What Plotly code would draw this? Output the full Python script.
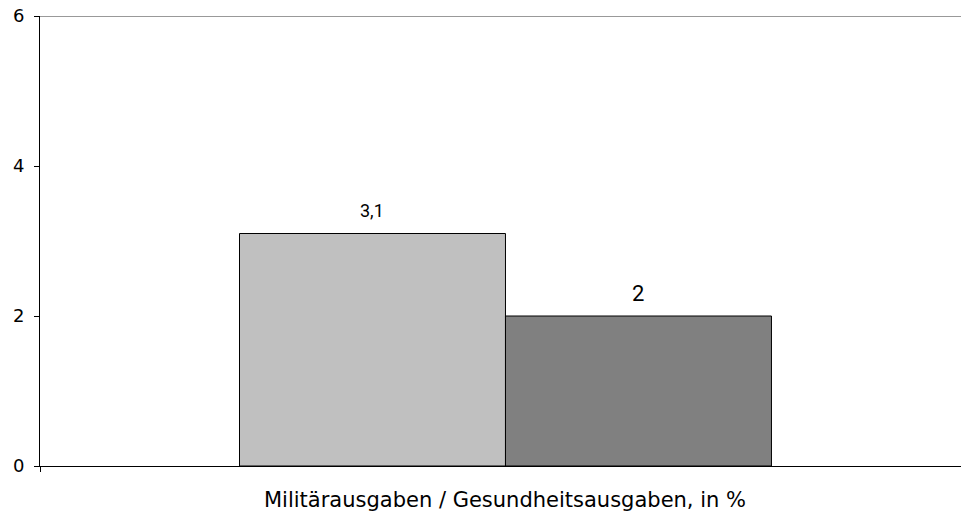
import plotly.graph_objects as go

series_names = ["Militärausgaben", "Gesundheitsausgaben"]
values = [3.1, 2]
value_labels = ["3,1", "2"]
colors = ["#C0C0C0", "#808080"]
label_sizes = [18, 22]
x_title = "Militärausgaben / Gesundheitsausgaben, in %"
y_ticks = [0, 2, 4, 6]

bar_w = 0.2857
positions = [-bar_w / 2, bar_w / 2]

fig = go.Figure()
for i in range(len(values)):
    fig.add_trace(go.Bar(
        x=[positions[i]], y=[values[i]], width=[bar_w], name=series_names[i],
        marker=dict(color=colors[i], line=dict(color="#000000", width=1)),
        hoverinfo="skip",
    ))
    fig.add_annotation(
        x=positions[i], y=values[i], text=value_labels[i], showarrow=False,
        yshift=23, font=dict(family="Roboto, Arial, sans-serif", size=label_sizes[i], color="#000000"),
    )

# category title centred under the bar group
fig.add_annotation(
    x=0, xref="x", y=0, yref="paper", yanchor="middle", yshift=-34,
    text=x_title, showarrow=False,
    font=dict(family="DejaVu Sans, sans-serif", size=21, color="#000000"),
)

fig.add_shape(type="line", xref="paper", yref="y", x0=0, x1=1, y0=6, y1=6,
              line=dict(color="#999999", width=2))

fig.update_layout(
    width=961, height=517,
    margin=dict(l=40, r=0, t=16, b=51, autoexpand=False),
    plot_bgcolor="#FFFFFF", paper_bgcolor="#FFFFFF",
    showlegend=False, barmode="overlay",
    font=dict(family="DejaVu Sans, sans-serif", color="#000000"),
    xaxis=dict(
        range=[-0.5, 0.4893], showgrid=False, zeroline=False, automargin=False,
        showline=True, linecolor="#000000", linewidth=1,
        tickmode="array", tickvals=[-0.5], ticktext=[""],
        ticks="outside", ticklen=5, tickcolor="#000000",
    ),
    yaxis=dict(
        range=[0, 6], tickvals=y_ticks, showgrid=False, zeroline=False, automargin=False,
        showline=True, linecolor="#000000", linewidth=1,
        ticks="outside", ticklen=5, tickcolor="#000000",
        tickfont=dict(size=18, family="DejaVu Sans, sans-serif"),
        ticklabeloverflow="allow", ticklabelstandoff=6,
    ),
)

fig.write_html("out.html", config={"displayModeBar": False},
               post_script="document.body.style.margin='0';")
